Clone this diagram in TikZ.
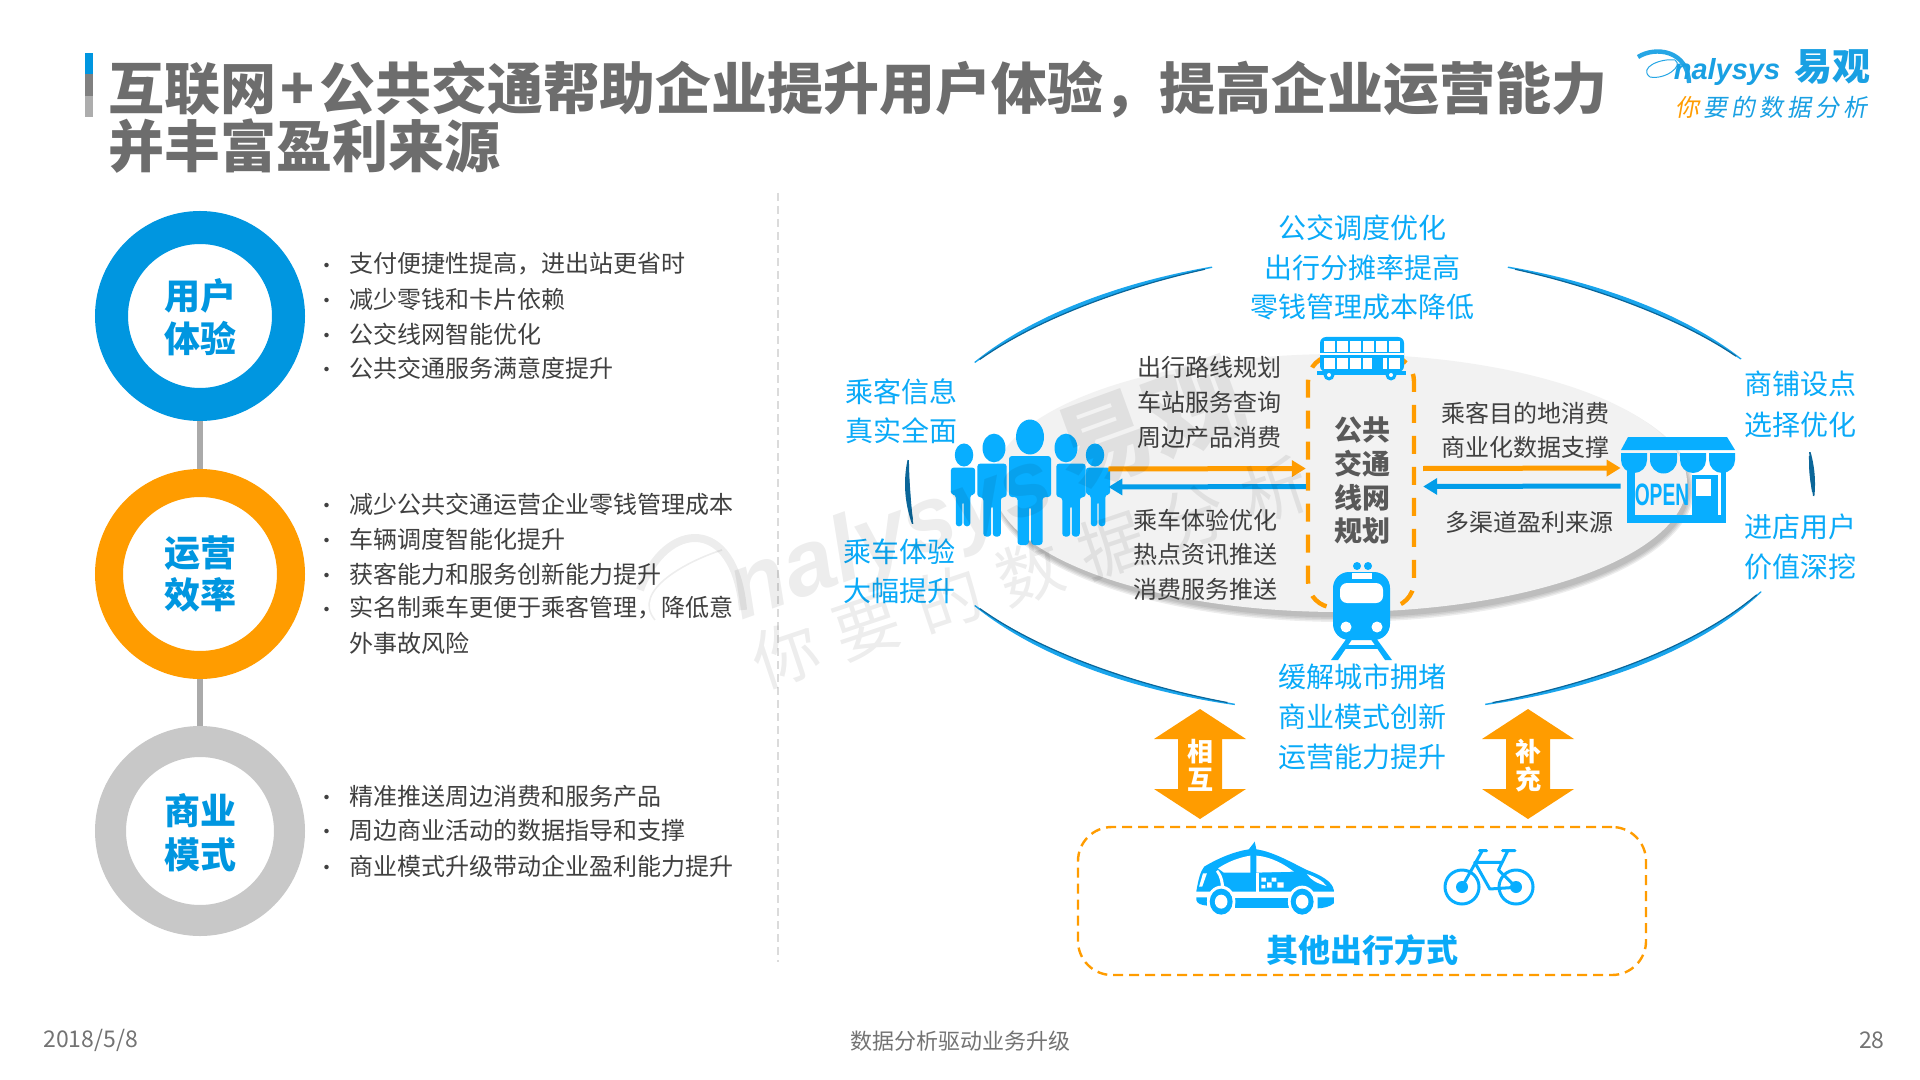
\documentclass[tikz,border=0pt]{standalone}
\usepackage{fontspec}
\setmainfont{Noto Sans CJK SC}
\newfontfamily\latbi{Liberation Sans}
\newfontfamily\slcjk[FakeSlant=0.18]{Noto Sans CJK SC}
\newfontfamily\condf[FakeStretch=0.62]{Liberation Sans}
\usetikzlibrary{arrows.meta,calc}
\definecolor{txtblue}{HTML}{0AAAF8}
\definecolor{icoblue}{HTML}{08AEFF}
\definecolor{cblue}{HTML}{0096E0}
\definecolor{corange}{HTML}{FF9C00}
\definecolor{cgray}{HTML}{C8C8C8}
\definecolor{titlegray}{HTML}{6D6D6D}
\definecolor{bodytxt}{HTML}{404040}
\definecolor{arcblue}{HTML}{1AA5EC}
\definecolor{arcdark}{HTML}{0B6699}
\newcommand{\fs}[1]{\fontsize{\fpeval{#1*0.5}}{\fpeval{#1*0.6}}\selectfont}
\newcommand{\bl}[3]{\node[bullettxt] (bd#1) at (327,#2+5) {•};\node[bodyline] (bt#1) at (349,#2+1) {#3};}
\newcommand{\arcp}[3]{%
  \fill[#3] plot[domain=#1:#2,samples=40] ({1360+455*cos(\x)},{484-230*sin(\x)})
   -- plot[domain=#2:#1,samples=40] ({1360+(455-1.4-3.2*sin(180*(\x-(#1))/((#2)-(#1))))*cos(\x)},{484-(230-1.4-3.2*sin(180*(\x-(#1))/((#2)-(#1))))*sin(\x)}) -- cycle;
  \draw[arcdark,line width=0.6pt] plot[domain=#1+1:#2-1,samples=30] ({1360+(455-1.2-3.2*sin(180*(\x-(#1))/((#2)-(#1))))*cos(\x)},{484-(230-1.2-3.2*sin(180*(\x-(#1))/((#2)-(#1))))*sin(\x)});}
% head x, head y, scale, body x, body x-scale
\newcommand{\person}[5]{%
  \fill[icoblue] (#1,#2) ellipse[x radius=14*#3,y radius=17.5*#3];
  \begin{scope}[shift={(#4,#2)},xscale=#5,yscale=#3]
   \fill[icoblue,rounded corners=1.5pt] (-21,60)--(-21,19)--(21,19)--(21,60)--(12.5,60)--(12.5,108)--(1.2,108)--(1.2,70)--(-1.2,70)--(-1.2,108)--(-12.5,108)--(-12.5,60)--cycle;
  \end{scope}}
\newcommand{\dblarrow}[1]{%
  \fill[corange] (#1,709)--(#1+46,739)--(#1+22,739)--(#1+22,789)--(#1+46,789)--(#1,819)--(#1-46,789)--(#1-22,789)--(#1-22,739)--(#1-46,739)--cycle;}
\tikzset{
  bodyline/.style={anchor=west,inner sep=0pt,text=bodytxt,font=\fs{24}},
  bullettxt/.style={inner sep=0pt,text=bodytxt,font=\fs{21}},
  ringnode/.style={circle,draw=#1,line width=16.5pt,inner sep=0pt,minimum size=88.5pt},
  ringtxt/.style={inner sep=0pt,text=cblue,font=\fs{36}\bfseries},
  link/.style={line width=3pt,color=cgray!85!black},
  bluetxt/.style={inner sep=0pt,text=txtblue,font=\fs{28}},
  darktxt/.style={inner sep=0pt,text=bodytxt,font=\fs{24}},
  flowO/.style={corange,line width=2.5pt,-{Triangle[length=7pt,width=8pt]}},
  flowB/.style={cblue!70!icoblue,line width=2.5pt,-{Triangle[length=7pt,width=8pt]}},
  foot/.style={inner sep=0pt,text=black!55,font=\fs{23}},
  wm/.style={inner sep=0pt,rotate=20,text=black},
}
\begin{document}
\begin{tikzpicture}[x=0.5pt,y=-0.5pt]
\useasboundingbox (0,0) rectangle (1920,1080);
\fill[white] (0,0) rectangle (1920,1080);
% title
\fill[cblue] (85,53) rectangle (93,74);
\fill[black!50] (85,74) rectangle (93,96);
\fill[black!32] (85,96) rectangle (93,117);
\node[anchor=west,inner sep=0pt,text=titlegray,font=\fs{56}\bfseries] (title1) at (108,89.5) {互联网\hspace{2.2pt}+\hspace{2.2pt}公共交通帮助企业提升用户体验，提高企业运营能力};
\node[anchor=west,inner sep=0pt,text=titlegray,font=\fs{56}\bfseries] (title2) at (108,146) {并丰富盈利来源};
% logo
\draw[cblue!85,line width=2.2pt] (1638,57) .. controls (1655,46) and (1688,50) .. (1689,83);
\draw[cblue!85,line width=0.5pt] (1650,77) .. controls (1638,68) and (1660,58) .. (1675,60) .. controls (1684,66) and (1665,80) .. (1650,77);
\node[inner sep=0pt,text=cblue!90,font=\latbi\bfseries\itshape\fs{29}] (logoa) at (1727,72) {nalysys};
\node[inner sep=0pt,text=cblue!90,font=\fs{38}\bfseries] (logob) at (1832,67) {易观};
\node[anchor=west,inner sep=0pt,font=\slcjk\fs{24}] (logoc) at (1675,107) {\textcolor{corange}{你}\hspace{2pt}\textcolor{cblue!90}{要\hspace{2pt}的\hspace{2pt}数\hspace{2pt}据\hspace{2pt}分\hspace{2pt}析}};
% rings
\node[ringnode=cblue] (c1) at (200,316) {};
\node[ringnode=corange,line width=14pt,minimum size=91pt] (c2) at (200,574) {};
\node[ringnode=cgray,line width=15.5pt,minimum size=89.5pt] (c3) at (200,831) {};
\node[ringtxt] (c1a) at (200,296) {用户};
\node[ringtxt] (c1b) at (200,339) {体验};
\node[ringtxt] (c2a) at (200,553) {运营};
\node[ringtxt] (c2b) at (200,595) {效率};
\node[ringtxt] (c3a) at (200,811) {商业};
\node[ringtxt] (c3b) at (200,855) {模式};
\draw[link] (c1.south) -- (c2.north);
\draw[link] (c2.south) -- (c3.north);
% bullets
\bl{a}{263}{支付便捷性提高，进出站更省时}
\bl{b}{298}{减少零钱和卡片依赖}
\bl{c}{333}{公交线网智能优化}
\bl{d}{367}{公共交通服务满意度提升}
\bl{e}{503}{减少公共交通运营企业零钱管理成本}
\bl{f}{538}{车辆调度智能化提升}
\bl{g}{573}{获客能力和服务创新能力提升}
\bl{h}{607}{实名制乘车更便于乘客管理，降低意}
\node[bodyline] (bti) at (349,643) {外事故风险};
\bl{j}{795}{精准推送周边消费和服务产品}
\bl{k}{829}{周边商业活动的数据指导和支撑}
\bl{l}{865}{商业模式升级带动企业盈利能力提升}
% divider
\draw[black!14,line width=0.8pt,dash pattern=on 4pt off 2.5pt] (778,193) -- (778,962);
% ellipse with shadow
\foreach \d in {4,2.5,1,-0.5}{\fill[black,opacity=0.07] (1343,489) ellipse[x radius=347+\d,y radius=129+\d];}
\fill[black!5] (1340,483) ellipse[x radius=347,y radius=129];
% big arcs
\arcp{109}{148}{arcblue}
\arcp{33}{71}{arcblue}
\arcp{212}{254}{arcblue}
\arcp{286}{332}{arcblue}
\arcp{174}{190}{arcdark}
\arcp{-3}{8}{arcdark}
% people
\person{964}{455}{0.66}{963}{0.58}
\person{1095}{455}{0.66}{1098}{0.58}
\person{994}{448}{0.82}{992}{0.7}
\person{1066}{448}{0.82}{1071}{0.7}
\person{1030}{437}{1}{1030}{1}
\node[inner sep=0pt,minimum width=76pt,minimum height=62pt] (people) at (1032,482) {};
% hub
\node[draw=corange,line width=2.2pt,rounded corners=13pt,minimum width=53pt,minimum height=126pt,inner sep=0pt,dash pattern=on 9pt off 6.5pt] (hub) at (1361,481.5) {};
\node[inner sep=0pt,text=black!65,font=\fs{28}\bfseries] (h1) at (1362,430) {公共};
\node[inner sep=0pt,text=black!65,font=\fs{28}\bfseries] (h2) at (1362,464) {交通};
\node[inner sep=0pt,text=black!65,font=\fs{28}\bfseries] (h3) at (1362,498) {线网};
\node[inner sep=0pt,text=black!65,font=\fs{28}\bfseries] (h4) at (1362,531) {规划};
% bus
\fill[icoblue,rounded corners=3pt] (1320,337) rectangle (1404,372);
\foreach \i in {0,...,5}{
  \fill[white] (1324+\i*13,341) rectangle ++(11,11);
  \fill[white] (1324+\i*13,358) rectangle ++(11,11);}
\fill[icoblue] (1372,358) rectangle (1383,369);
\fill[white] (1320,353.5) rectangle (1404,355);
\fill[icoblue] (1317,371) rectangle (1406,375);
\fill[icoblue] (1329,375) circle[radius=5.5] (1391,375) circle[radius=5.5];
\fill[white] (1329,375) circle[radius=2] (1391,375) circle[radius=2];
% train
\fill[icoblue] (1357,566) circle[radius=4] (1368,566) circle[radius=4];
\fill[icoblue,rounded corners=8pt] (1333,572) rectangle (1390,640);
\fill[white,rounded corners=3.5pt] (1340,583) rectangle (1383,603);
\fill[white] (1352,573) rectangle (1372,579);
\fill[white] (1346,627) circle[radius=5.5] (1377,627) circle[radius=5.5];
\fill[icoblue] (1347,638)--(1353,638)--(1338,660)--(1331,660)--cycle;
\fill[icoblue] (1376,638)--(1370,638)--(1385,660)--(1392,660)--cycle;
\fill[icoblue] (1343,645) rectangle (1380,649);
% shop
\fill[icoblue] (1628,437)--(1727,437)--(1735,450)--(1621,450)--cycle;
\foreach \xa/\xb in {1621/1647,1650/1677,1680/1706,1709/1735}{
  \fill[icoblue] (\xa,453) -- (\xb,453) -- (\xb,460) arc[start angle=0,end angle=180,radius={(\xb-\xa)/2}] -- cycle;}
\fill[icoblue] (1627,470) rectangle (1635,523);
\fill[icoblue] (1627,515) rectangle (1726,523);
\fill[icoblue] (1692,475) rectangle (1718,523);
\fill[icoblue] (1721,465) rectangle (1726,523);
\fill[white] (1696,479) rectangle (1711,496);
\node[inner sep=0pt,text=icoblue,font=\condf\bfseries\fs{31}] (opn) at (1662,495) {OPEN};
\node[inner sep=0pt,minimum width=57pt,minimum height=43pt] (shop) at (1678,480) {};
% flow arrows
\draw[flowO] ([yshift=6.5pt]people.east) -- ([yshift=6.5pt]hub.west);
\draw[flowB] ([yshift=-2.5pt]hub.west) -- ([yshift=-2.5pt]people.east);
\draw[flowO] ([yshift=6.5pt,xshift=3.5pt]hub.east) -- ([yshift=6pt]shop.west);
\draw[flowB] ([yshift=-3pt]shop.west) -- ([yshift=-2.5pt,xshift=3.5pt]hub.east);
% dark labels
\node[darktxt,anchor=east] (d1) at (1282,367) {出行路线规划};
\node[darktxt,anchor=east] (d2) at (1282,402) {车站服务查询};
\node[darktxt,anchor=east] (d3) at (1282,437) {周边产品消费};
\node[darktxt,anchor=east] (d4) at (1278,520) {乘车体验优化};
\node[darktxt,anchor=east] (d5) at (1278,555) {热点资讯推送};
\node[darktxt,anchor=east] (d6) at (1278,589) {消费服务推送};
\node[darktxt,anchor=west] (d7) at (1441,413) {乘客目的地消费};
\node[darktxt,anchor=west] (d8) at (1441,447) {商业化数据支撑};
\node[darktxt,anchor=west] (d9) at (1445,522) {多渠道盈利来源};
% blue labels
\node[bluetxt] (t1) at (1362,228) {公交调度优化};
\node[bluetxt] (t2) at (1362,268) {出行分摊率提高};
\node[bluetxt] (t3) at (1362,307) {零钱管理成本降低};
\node[bluetxt] (t4) at (1362,677) {缓解城市拥堵};
\node[bluetxt] (t5) at (1362,717) {商业模式创新};
\node[bluetxt] (t6) at (1362,757) {运营能力提升};
\node[bluetxt] (t7) at (901,392) {乘客信息};
\node[bluetxt] (t8) at (901,431) {真实全面};
\node[bluetxt] (t9) at (899,552) {乘车体验};
\node[bluetxt] (t10) at (899,591) {大幅提升};
\node[bluetxt] (t11) at (1800,384) {商铺设点};
\node[bluetxt] (t12) at (1800,425) {选择优化};
\node[bluetxt] (t13) at (1800,527) {进店用户};
\node[bluetxt] (t14) at (1800,567) {价值深挖};
% double arrows
\dblarrow{1200}
\dblarrow{1528}
\node[inner sep=0pt,text=white,font=\fs{26}\bfseries] (a1) at (1200,752) {相};
\node[inner sep=0pt,text=white,font=\fs{26}\bfseries] (a2) at (1200,780) {互};
\node[inner sep=0pt,text=white,font=\fs{26}\bfseries] (a3) at (1528,752) {补};
\node[inner sep=0pt,text=white,font=\fs{26}\bfseries] (a4) at (1528,780) {充};
% other modes box
\node[draw=corange,line width=1.2pt,rounded corners=17pt,minimum width=284pt,minimum height=74pt,inner sep=0pt,dash pattern=on 5pt off 3pt] (other) at (1362,901) {};
\node[inner sep=0pt,text=txtblue,font=\fs{32}\bfseries] (t15) at (1362,950) {其他出行方式};
% taxi
\begin{scope}[shift={(1060,690)},xscale=0.395,yscale=0.3333]
\fill[icoblue] (345,605) .. controls (350,570) and (355,545) .. (365,530) .. controls (400,505) and (440,485) .. (478,478) -- (493,455) -- (497,478) .. controls (540,485) and (590,520) .. (625,540) .. controls (660,555) and (690,575) .. (693,600) -- (693,605) -- cycle;
\fill[white] (400,535) .. controls (425,515) and (455,502) .. (482,497) -- (482,548) -- (415,548) -- cycle;
\fill[white] (497,497) .. controls (535,500) and (570,525) .. (592,545) -- (497,548) -- cycle;
\fill[white] (625,552) .. controls (645,560) and (665,572) .. (675,588) .. controls (650,580) and (635,570) .. (625,552) -- cycle;
\fill[white] (362,550) -- (372,550) -- (360,590) -- (352,590) -- cycle;
\fill[white] (400,540) .. controls (415,560) and (415,585) .. (417,605) -- (408,605) .. controls (408,580) and (405,560) .. (395,545) -- cycle;
\fill[white] (497,548) rectangle (505,605);
\fill[white] (510,563) rectangle (522,575) (536,563) rectangle (548,575) (524,577) rectangle (536,593) (510,585) rectangle (520,595) (550,577) rectangle (566,593);
\fill[white] (345,606) rectangle (693,622);
\fill[icoblue] (345,622) -- (372,622) -- (372,647) .. controls (355,645) and (347,640) .. (345,630) -- cycle;
\fill[icoblue] (443,624) rectangle (580,655);
\fill[icoblue] (652,622) -- (693,622) -- (693,640) .. controls (685,650) and (665,655) .. (652,655) -- cycle;
\foreach \cx in {408,613}{
  \fill[white] (\cx,635) ellipse[x radius=36,y radius=48];
  \fill[icoblue] (\cx,635) ellipse[x radius=29,y radius=39];
  \fill[white] (\cx,635) ellipse[x radius=16,y radius=21];}
\end{scope}
% bicycle
\begin{scope}[shift={(1060,690)},xscale=0.395,yscale=0.3333]
\draw[icoblue,line width=1.5pt,line cap=round,line join=round] (1062,482)--(1080,482) (1120,482)--(1152,482) (1068,484)--(1017,592) (1133,484)--(1110,540) (1050,517)--(1088,597)--(1155,592) (1050,517)--(1118,517) (1110,540)--(1155,592);
\end{scope}
\foreach \cx in {1462,1516}{
  \draw[icoblue,line width=1.5pt] (\cx,887) circle[radius=17];
  \fill[icoblue] (\cx,887) circle[radius=6];}
% footer
\node[foot,anchor=west] (f1) at (43,1040) {2018/5/8};
\node[foot,font=\fs{22}] (f2) at (960,1041) {数据分析驱动业务升级};
\node[foot,anchor=east] (f3) at (1885,1040) {28};
% watermark
\begin{scope}[opacity=0.07,text opacity=0.07]
\draw[line width=4pt] (640,590) .. controls (665,520) and (735,515) .. (743,610);
\draw[line width=0.8pt] (655,620) .. controls (630,590) and (690,560) .. (722,550);
\node[wm,font=\latbi\bfseries\itshape\fs{92}] (wm1) at (892,540) {nalysys};
\node[wm,font=\fs{96}\bfseries] (wm2) at (1150,425) {易观};
\node[wm,rotate=-1.5,font=\fs{66}] (wm3) at (1030,572) {你\hspace{10pt}要\hspace{10pt}的\hspace{10pt}数\hspace{10pt}据\hspace{10pt}分\hspace{10pt}析};
\end{scope}
\end{tikzpicture}
\end{document}
